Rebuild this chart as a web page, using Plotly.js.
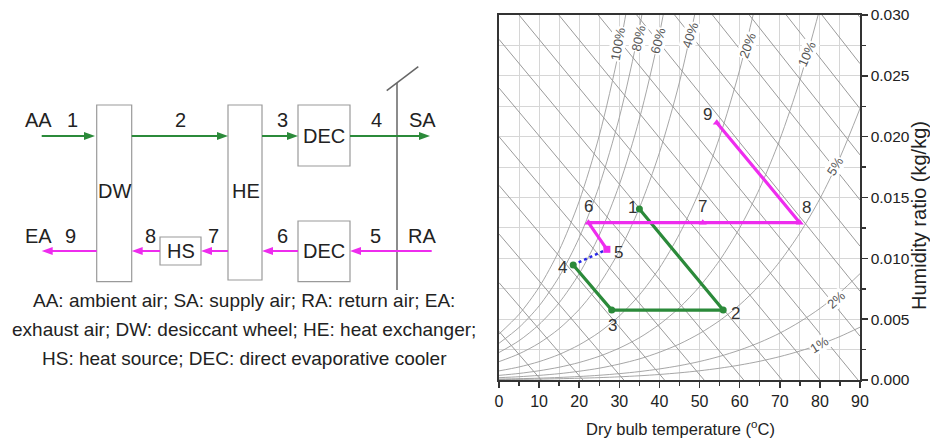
<!DOCTYPE html>
<html><head><meta charset="utf-8">
<script src="https://cdn.plot.ly/plotly-3.0.1.min.js"></script>
<style>html,body{margin:0;padding:0;background:#fff;overflow:hidden}#chart{width:930px;height:443px}</style>
</head><body><div id="chart"></div>
<script>
// ---------- data ----------
const tempGrid = [0,5,10,15,20,25,30,35,40,45,50,55,60,65,70,75,80,85,90];
const rh100 = [0.00378,0.00540,0.00763,0.01065,0.01470,0.02009,0.02721,0.03658];
const rh80  = [0.00302,0.00432,0.00609,0.00849,0.01170,0.01597,0.02158,0.02893,0.03851];
const rh60  = [0.00226,0.00323,0.00456,0.00635,0.00874,0.01190,0.01605,0.02145,0.02844,0.03747];
const rh40  = [0.00151,0.00215,0.00303,0.00422,0.00580,0.00788,0.01061,0.01414,0.01868,0.02449,0.03189];
const rh20  = [0.00075,0.00107,0.00151,0.00210,0.00289,0.00392,0.00526,0.00699,0.00920,0.01201,0.01554,0.01997,0.02549,0.03235];
const rh10  = [0.00038,0.00054,0.00076,0.00105,0.00144,0.00195,0.00262,0.00347,0.00457,0.00595,0.00768,0.00983,0.01249,0.01576,0.01976,0.02463,0.03054];
const rh5   = [0.00019,0.00027,0.00038,0.00052,0.00072,0.00097,0.00131,0.00173,0.00228,0.00296,0.00382,0.00488,0.00618,0.00778,0.00973,0.01208,0.01490,0.01828,0.02231];
const rh2   = [0.000075,0.000107,0.000151,0.000209,0.000287,0.000389,0.000522,0.000692,0.000908,0.00118,0.00152,0.00194,0.00246,0.00309,0.00385,0.00478,0.00588,0.00719,0.00874];
const rh1   = [0.000038,0.000054,0.000076,0.000105,0.000144,0.000195,0.000261,0.000346,0.000454,0.000590,0.000759,0.000969,0.001227,0.001540,0.001921,0.002378,0.002925,0.003574,0.004339];
const rhCurves = [rh100, rh80, rh60, rh40, rh20, rh10, rh5, rh2, rh1];
const rhLabels = ['100%','80%','60%','40%','20%','10%','5%','2%','1%'];

// constant-enthalpy guide lines: humidity ratio at 0 °C and at 90 °C
const enthalpyT  = [0, 90];
const enthalpyW0  = [0.0040,0.0080,0.0120,0.0160,0.0200,0.0240,0.0280,0.0320,0.0360,0.0400,0.0440,0.0480,0.0520,0.0560,0.0600,0.0640,0.0680];
const enthalpyW90 = [-0.0302,-0.0264,-0.0227,-0.0189,-0.0152,-0.0114,-0.0077,-0.0040,-0.0002,0.0036,0.0073,0.0110,0.0148,0.0185,0.0223,0.0260,0.0298];

// state points 1..9
const stateLabels = ['1','2','3','4','5','6','7','8','9'];
const stateT = [35.0, 55.9, 28.1, 18.5, 26.9, 22.3, 50.8, 75.0, 54.3];
const stateW = [0.01405, 0.00575, 0.00575, 0.00945, 0.01074, 0.01293, 0.01293, 0.01293, 0.02115];
const supplyIdx = [0,1,2,3];      // 1-2-3-4
const mixIdx = [3,4];             // 4-5
const regenIdx = [4,5,6,7,8];     // 5-6-7-8-9

// schematic texts
const topLabels = ['AA','1','2','3','4','SA'];
const bottomLabels = ['EA','9','8','7','6','5','RA'];
const boxLabels = ['DW','HE','DEC','DEC','HS'];
const captionLines = ['AA: ambient air; SA: supply air; RA: return air; EA:',
  'exhaust air; DW: desiccant wheel; HE: heat exchanger;',
  'HS: heat source; DEC: direct evaporative cooler'];
const xTitle = 'Dry bulb temperature (<sup>o</sup>C)';
const yTitle = 'Humidity ratio (kg/kg)';

// ---------- helpers ----------
const W = 930, H = 443;
const P = x => x / W, Q = y => 1 - y / H;
const SANS = '"Liberation Sans", Arial, sans-serif';
const GREEN = '#2b8a3a', MAGENTA = '#ee2cee', BLUE = '#2828e6';

const traces = [];
for (let i = 0; i < enthalpyW0.length; i++) {
  traces.push({x: enthalpyT, y: [enthalpyW0[i], enthalpyW90[i]], mode: 'lines',
    line: {color: '#8e8e8e', width: 0.9}, hoverinfo: 'skip'});
}
rhCurves.forEach(c => {
  traces.push({x: tempGrid.slice(0, c.length), y: c, mode: 'lines',
    line: {color: '#9c9c9c', width: 0.9, shape: 'spline', smoothing: 0.8}, hoverinfo: 'skip'});
});
const pick = (arr, idx) => idx.map(i => arr[i]);
traces.push({x: pick(stateT, mixIdx), y: pick(stateW, mixIdx), mode: 'lines',
  line: {color: BLUE, width: 2.5, dash: 'dot'}});
traces.push({x: pick(stateT, supplyIdx), y: pick(stateW, supplyIdx), mode: 'lines+markers',
  line: {color: GREEN, width: 3.2}, marker: {color: GREEN, size: 7, symbol: 'circle'}});
traces.push({x: pick(stateT, regenIdx), y: pick(stateW, regenIdx), mode: 'lines+markers',
  line: {color: MAGENTA, width: 3.2},
  marker: {color: MAGENTA, size: 7, symbol: ['square','triangle-up','triangle-up','triangle-up','triangle-up']}});

// ---------- annotations ----------
const ann = [];
const txt = (text, xpx, ypx, size, extra) => Object.assign({x: P(xpx), y: Q(ypx), xref: 'paper', yref: 'paper',
  xanchor: 'center', yanchor: 'middle', text: text, showarrow: false,
  font: {family: SANS, size: size, color: '#222'}}, extra || {});
const labelShift = [[-7,2],[12,-3],[1,-15],[-11,-2],[12,-3],[0,16],[0,16],[7,15],[-9,8]];
stateLabels.forEach((s, i) => {
  ann.push({x: stateT[i], y: stateW[i], xref: 'x', yref: 'y', text: s, showarrow: false,
    xanchor: 'center', yanchor: 'middle',
    xshift: labelShift[i][0], yshift: labelShift[i][1],
    font: {family: SANS, size: 17, color: '#333'}});
});
const rhLabelPos = [[29.7,0.02764,-80],[34.7,0.0281,-78],[39.7,0.0279,-75],[47.6,0.02835,-72],
  [61.9,0.02753,-70],[76.9,0.0268,-66],[83.8,0.01753,-58],[84.2,0.00658,-42],[80.0,0.00288,-32]];
rhLabels.forEach((s, i) => {
  ann.push({x: rhLabelPos[i][0], y: rhLabelPos[i][1], xref: 'x', yref: 'y', text: s, showarrow: false,
    xanchor: 'center', yanchor: 'middle',
    textangle: rhLabelPos[i][2], bgcolor: '#ffffff', borderpad: 0,
    font: {family: SANS, size: 13, color: '#555'}});
});
ann.push(txt(xTitle, 680, 428, 16.5));
ann.push(txt(yTitle, 919, 216, 20, {textangle: -90}));

const topX = [38, 72, 180, 282, 376, 422];
topLabels.forEach((s, i) => ann.push(txt(s, topX[i], 120, 20)));
const botX = [38, 70, 150, 213, 282, 375, 422];
bottomLabels.forEach((s, i) => ann.push(txt(s, botX[i], 236, 20)));
const boxLabelPos = [[114,191],[245.5,191],[324,136],[324,251],[180.5,251]];
boxLabels.forEach((s, i) => ann.push(txt(s, boxLabelPos[i][0], boxLabelPos[i][1], 20)));
const capY = [300, 329, 358];
captionLines.forEach((s, i) => ann.push(txt(s, 244, capY[i], 19)));

// ---------- shapes (schematic) ----------
const shapes = [];
const box = (x0, y0, x1, y1) => shapes.push({type: 'rect', xref: 'paper', yref: 'paper',
  x0: P(x0), x1: P(x1), y0: Q(y1), y1: Q(y0), line: {color: '#9a9a9a', width: 1.2}, fillcolor: '#ffffff', layer: 'below'});
box(96.7, 105, 131.7, 281.7);
box(228, 105, 262, 280);
box(298, 105, 350, 166);
box(298, 221, 350, 281.7);
box(160, 237, 201, 265);
shapes.push({type: 'line', xref: 'paper', yref: 'paper', x0: P(397), x1: P(397), y0: Q(83), y1: Q(290),
  line: {color: '#666', width: 1.5}});
shapes.push({type: 'line', xref: 'paper', yref: 'paper', x0: P(386.7), x1: P(418.3), y0: Q(90.7), y1: Q(66.7),
  line: {color: '#666', width: 1.5}});
function arrow(x1, x2, y, color) {
  const dir = Math.sign(x2 - x1), hl = 11, hw = 4;
  const xb = x2 - dir * hl;
  shapes.push({type: 'line', xref: 'paper', yref: 'paper', x0: P(x1), x1: P(xb + dir), y0: Q(y), y1: Q(y),
    line: {color: color, width: 2}});
  shapes.push({type: 'path', xref: 'paper', yref: 'paper',
    path: `M${P(x2)},${Q(y)} L${P(xb)},${Q(y - hw)} L${P(xb)},${Q(y + hw)} Z`,
    fillcolor: color, line: {color: color, width: 0}});
}
[[41.7,95],[131.7,228],[262,298],[350,430]].forEach(a => arrow(a[0], a[1], 136, GREEN));
[[431.7,350],[298,262],[228,201],[160,131.7],[96.7,41.7]].forEach(a => arrow(a[0], a[1], 251, MAGENTA));

// ---------- layout ----------
const GRID = '#d6d6d6';
const layout = {
  width: W, height: H, margin: {l: 0, r: 0, t: 0, b: 0},
  paper_bgcolor: '#fff', plot_bgcolor: '#fff', showlegend: false,
  xaxis: {domain: [P(499), P(860)], range: [0, 90], anchor: 'y', tick0: 0, dtick: 10,
    ticks: 'outside', ticklen: 6, tickwidth: 1.5, tickcolor: '#333',
    showgrid: true, gridcolor: GRID, gridwidth: 1,
    minor: {dtick: 5, ticks: 'outside', ticklen: 4, tickcolor: '#333', showgrid: true, gridcolor: GRID},
    showline: true, linecolor: '#333', linewidth: 1.6, mirror: true, zeroline: false,
    tickfont: {family: SANS, size: 16, color: '#222'}},
  yaxis: {domain: [Q(380), Q(15)], range: [0, 0.03], anchor: 'x', side: 'right', tick0: 0, dtick: 0.005,
    tickformat: '.3f', ticks: 'outside', ticklen: 6, tickwidth: 1.5, tickcolor: '#333',
    showgrid: true, gridcolor: GRID, gridwidth: 1,
    minor: {dtick: 0.0025, ticks: 'outside', ticklen: 4, tickcolor: '#333', showgrid: true, gridcolor: GRID},
    showline: true, linecolor: '#333', linewidth: 1.6, mirror: true, zeroline: false,
    tickfont: {family: SANS, size: 15.5, color: '#222'}},
  annotations: ann, shapes: shapes
};
Plotly.newPlot('chart', traces, layout, {displayModeBar: false, staticPlot: true});
</script></body></html>
